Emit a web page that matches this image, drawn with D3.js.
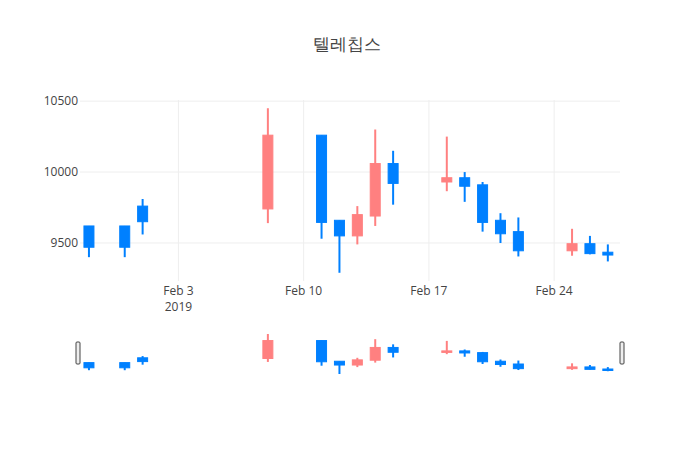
<!DOCTYPE html>
<html><head><meta charset="utf-8">
<script src="https://cdn.jsdelivr.net/npm/d3@7"></script>
<style>body{margin:0;background:#fff;font-family:"Open Sans",sans-serif;}</style>
</head><body><div id="chart"></div>
<script>
var dates = ["2019-01-29","2019-01-31","2019-02-01","2019-02-08","2019-02-11","2019-02-12","2019-02-13","2019-02-14","2019-02-15",
    "2019-02-18","2019-02-19","2019-02-20","2019-02-21","2019-02-22","2019-02-25","2019-02-26","2019-02-27"];
var open  = [9620, 9620, 9760, 9740, 10260, 9660, 9550, 9690, 10060, 9930, 9960, 9910, 9660, 9580, 9445, 9495, 9435];
var high  = [9620, 9620, 9810, 10450, 10260, 9660, 9760, 10300, 10150, 10250, 10000, 9930, 9710, 9680, 9600, 9550, 9490];
var low   = [9400, 9400, 9560, 9640, 9530, 9290, 9490, 9620, 9770, 9865, 9790, 9580, 9500, 9405, 9410, 9420, 9370];
var close = [9470, 9470, 9650, 10260, 9645, 9550, 9700, 10060, 9920, 9960, 9900, 9645, 9565, 9445, 9495, 9425, 9415];
var yTicks = [9500, 10000, 10500];
var xTicks = ["2019-02-03", "2019-02-10", "2019-02-17", "2019-02-24"];

var parse = d3.timeParse("%Y-%m-%d");
var data = dates.map(function (d, i) {
    return { date: parse(d), o: open[i], h: high[i], l: low[i], c: close[i] };
});
var DAY = 864e5;
var W = 700, H = 450, left = 80, right = 620;
var upColor = "#ff8080", downColor = "#0080ff";

var svg = d3.select("#chart").append("svg").attr("width", W).attr("height", H);

var x = d3.scaleTime()
    .domain([new Date(data[0].date - 0.5 * DAY), new Date(+data[data.length - 1].date + 0.68 * DAY)])
    .range([left, right]);
var y = d3.scaleLinear().domain([9232, 10508]).range([281, 100]);
var ys = d3.scaleLinear().domain([9232, 10508]).range([376, 332]);

svg.append("text").attr("x", 347).attr("y", 50).attr("text-anchor", "middle")
    .style("font-size", "17px").style("fill", "#444").text("텔레칩스");

// grid
svg.selectAll(".gy").data(yTicks).enter().append("line")
    .attr("x1", left).attr("x2", right)
    .attr("y1", function (d) { return y(d); }).attr("y2", function (d) { return y(d); })
    .style("stroke", "#eee");
svg.selectAll(".gx").data(xTicks).enter().append("line")
    .attr("x1", function (d) { return x(parse(d)); }).attr("x2", function (d) { return x(parse(d)); })
    .attr("y1", 100).attr("y2", 281)
    .style("stroke", "#eee");

svg.selectAll(".yl").data(yTicks).enter().append("text")
    .attr("x", left - 2).attr("y", function (d) { return y(d) + 4; })
    .attr("text-anchor", "end").style("font-size", "12px").style("fill", "#444")
    .text(function (d) { return d; });

svg.selectAll(".xl").data(xTicks).enter().append("text")
    .attr("x", function (d) { return x(parse(d)); }).attr("y", 295)
    .attr("text-anchor", "middle").style("font-size", "12px").style("fill", "#444")
    .text(function (d) { return d3.timeFormat("%b %-d")(parse(d)); });
svg.append("text").attr("x", x(parse(xTicks[0]))).attr("y", 311)
    .attr("text-anchor", "middle").style("font-size", "12px").style("fill", "#444").text("2019");

function candles(g, ys, bodyW) {
    var c = g.selectAll("g").data(data).enter().append("g");
    c.append("line")
        .attr("x1", function (d) { return x(d.date); }).attr("x2", function (d) { return x(d.date); })
        .attr("y1", function (d) { return ys(d.h); }).attr("y2", function (d) { return ys(d.l); })
        .style("stroke", function (d) { return d.c >= d.o ? upColor : downColor; })
        .style("stroke-width", 2);
    c.append("rect")
        .attr("x", function (d) { return x(d.date) - bodyW / 2; })
        .attr("width", bodyW)
        .attr("y", function (d) { return ys(Math.max(d.o, d.c)); })
        .attr("height", function (d) { return Math.max(1.5, Math.abs(ys(d.o) - ys(d.c))); })
        .style("fill", function (d) { return d.c >= d.o ? upColor : downColor; })
        .style("stroke", function (d) { return d.c >= d.o ? upColor : downColor; })
        .style("stroke-width", 1);
}
candles(svg.append("g"), y, 10);
candles(svg.append("g"), ys, 10);

// range slider handles
[left - 2, right + 2].forEach(function (hx) {
    svg.append("rect").attr("x", hx - 2).attr("y", 342).attr("width", 4).attr("height", 22)
        .attr("rx", 1).style("fill", "#eee").style("stroke", "#444").style("stroke-width", 1);
});
</script></body></html>
